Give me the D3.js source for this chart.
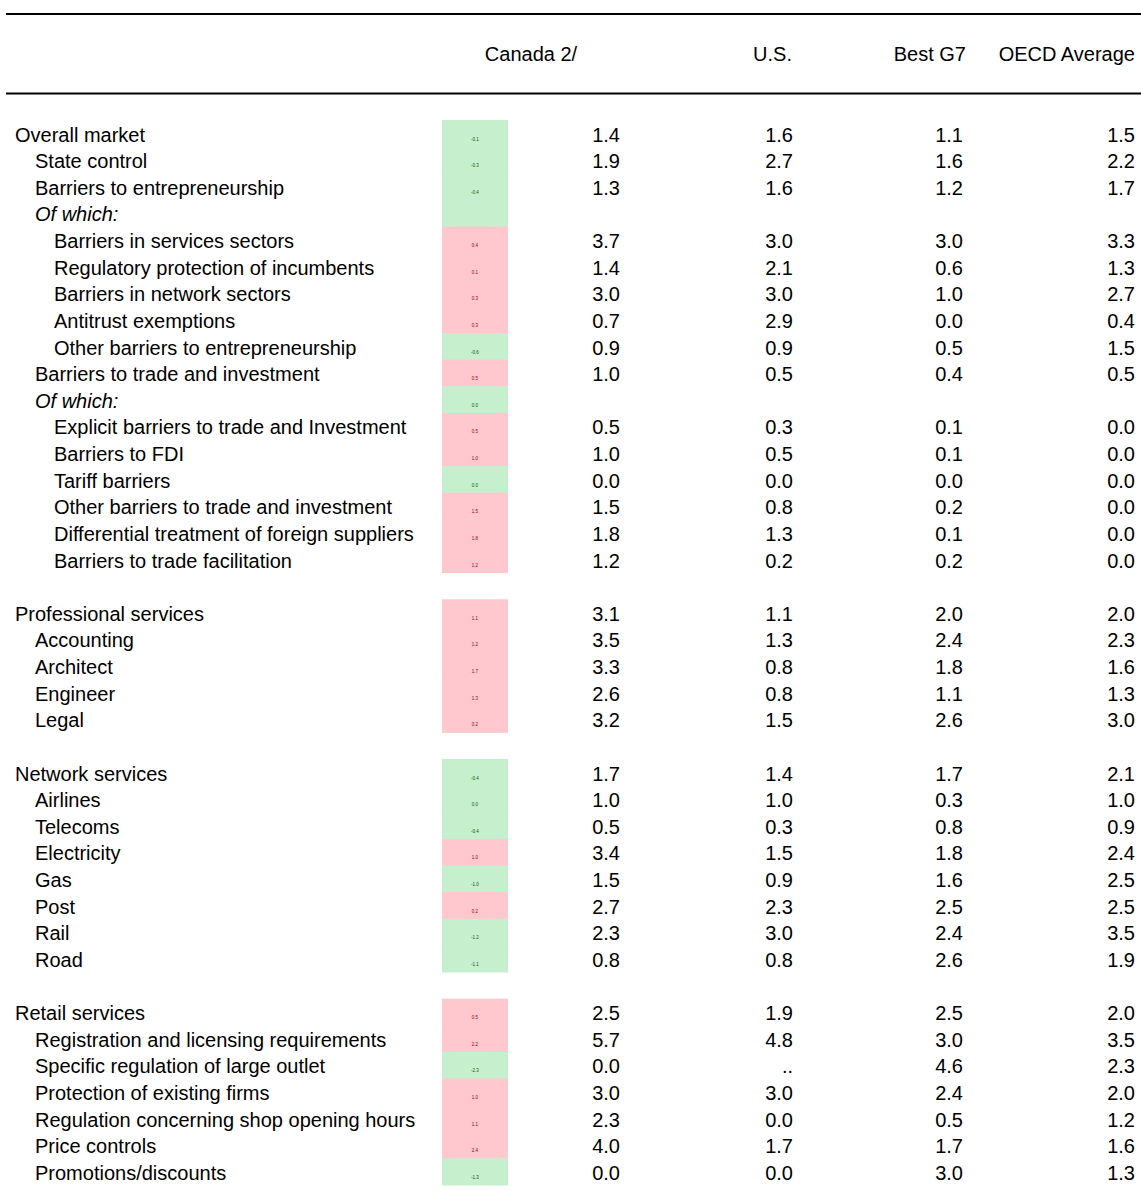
<!DOCTYPE html>
<html>
<head>
<meta charset="utf-8">
<script src="https://cdn.jsdelivr.net/npm/d3@7"></script>
<style>
  html, body { margin: 0; padding: 0; background: #ffffff; }
  svg { display: block; font-family: "Liberation Sans", Arial, sans-serif; }
</style>
</head>
<body>
<svg id="chart" width="1141" height="1191"></svg>
<script>
// ---------- DATA ----------
const columns = ["Canada 2/", "U.S.", "Best G7", "OECD Average"];

// null label = blank spacer row
const labels = [
  "Overall market", "State control", "Barriers to entrepreneurship", "Of which:",
  "Barriers in services sectors", "Regulatory protection of incumbents", "Barriers in network sectors",
  "Antitrust exemptions", "Other barriers to entrepreneurship", "Barriers to trade and investment",
  "Of which:", "Explicit barriers to trade and Investment", "Barriers to FDI", "Tariff barriers",
  "Other barriers to trade and investment", "Differential treatment of foreign suppliers",
  "Barriers to trade facilitation",
  null,
  "Professional services", "Accounting", "Architect", "Engineer", "Legal",
  null,
  "Network services", "Airlines", "Telecoms", "Electricity", "Gas", "Post", "Rail", "Road",
  null,
  "Retail services", "Registration and licensing requirements", "Specific regulation of large outlet",
  "Protection of existing firms", "Regulation concerning shop opening hours", "Price controls",
  "Promotions/discounts"
];

// hierarchy depth of each row (0 = heading, 1 = sub-item, 2 = sub-sub-item)
const levels = [
  0, 1, 1, 1, 2, 2, 2, 2, 2, 1, 1, 2, 2, 2, 2, 2, 2,
  null,
  0, 1, 1, 1, 1,
  null,
  0, 1, 1, 1, 1, 1, 1, 1,
  null,
  0, 1, 1, 1, 1, 1, 1
];

const canada = [
  1.4, 1.9, 1.3, null, 3.7, 1.4, 3.0, 0.7, 0.9, 1.0, null, 0.5, 1.0, 0.0, 1.5, 1.8, 1.2,
  null,
  3.1, 3.5, 3.3, 2.6, 3.2,
  null,
  1.7, 1.0, 0.5, 3.4, 1.5, 2.7, 2.3, 0.8,
  null,
  2.5, 5.7, 0.0, 3.0, 2.3, 4.0, 0.0
];
const us = [
  1.6, 2.7, 1.6, null, 3.0, 2.1, 3.0, 2.9, 0.9, 0.5, null, 0.3, 0.5, 0.0, 0.8, 1.3, 0.2,
  null,
  1.1, 1.3, 0.8, 0.8, 1.5,
  null,
  1.4, 1.0, 0.3, 1.5, 0.9, 2.3, 3.0, 0.8,
  null,
  1.9, 4.8, "..", 3.0, 0.0, 1.7, 0.0
];
const bestG7 = [
  1.1, 1.6, 1.2, null, 3.0, 0.6, 1.0, 0.0, 0.5, 0.4, null, 0.1, 0.1, 0.0, 0.2, 0.1, 0.2,
  null,
  2.0, 2.4, 1.8, 1.1, 2.6,
  null,
  1.7, 0.3, 0.8, 1.8, 1.6, 2.5, 2.4, 2.6,
  null,
  2.5, 3.0, 4.6, 2.4, 0.5, 1.7, 3.0
];
const oecd = [
  1.5, 2.2, 1.7, null, 3.3, 1.3, 2.7, 0.4, 1.5, 0.5, null, 0.0, 0.0, 0.0, 0.0, 0.0, 0.0,
  null,
  2.0, 2.3, 1.6, 1.3, 3.0,
  null,
  2.1, 1.0, 0.9, 2.4, 2.5, 2.5, 3.5, 1.9,
  null,
  2.0, 3.5, 2.3, 2.0, 1.2, 1.6, 1.3
];
// small figure in the coloured cell: Canada gap versus the OECD average
const gapVsOECD = [
  -0.1, -0.3, -0.4, null, 0.4, 0.1, 0.3, 0.3, -0.6, 0.5, 0.0, 0.5, 1.0, 0.0, 1.5, 1.8, 1.2,
  null,
  1.1, 1.2, 1.7, 1.3, 0.2,
  null,
  -0.4, 0.0, -0.4, 1.0, -1.0, 0.2, -1.2, -1.1,
  null,
  0.5, 2.2, -2.3, 1.0, 1.1, 2.4, -1.3
];
const series = [canada, us, bestG7, oecd];

// ---------- DRAW ----------
const svg = d3.select("#chart");
const W = 1141;
const FS = 20;

const y = d3.scaleBand().domain(d3.range(labels.length)).range([120, 1185]).padding(0);
const xValEnd = d3.scaleOrdinal().domain(columns).range([620, 793, 963, 1135]);
// header anchor positions (Canada header centred over cell + value columns)
const xHead = d3.scaleOrdinal().domain(columns).range([531, 792, 966, 1135]);
const headAnchor = d3.scaleOrdinal().domain(columns).range(["middle", "end", "end", "end"]);
const xIndent = d3.scaleOrdinal().domain([0, 1, 2]).range([15, 35, 54]);
const cellX0 = 442, cellX1 = 508;

const fmt = d3.format(".1f");
const fmtGap = v => (v < 0 ? "-" : "") + d3.format(".1f")(Math.abs(v));

// rules
svg.append("line").attr("x1", 6).attr("x2", W).attr("y1", 14).attr("y2", 14)
  .attr("stroke", "#000").attr("stroke-width", 2);
svg.append("line").attr("x1", 6).attr("x2", W).attr("y1", 93.5).attr("y2", 93.5)
  .attr("stroke", "#000").attr("stroke-width", 2);

// headers
svg.selectAll("text.head").data(columns).join("text")
  .attr("class", "head")
  .attr("x", d => xHead(d)).attr("y", 61)
  .attr("text-anchor", d => headAnchor(d))
  .attr("font-size", FS).attr("fill", "#000")
  .text(d => d);

const rows = labels.map((l, i) => ({ i, label: l, level: levels[i], gap: gapVsOECD[i] }))
  .filter(d => d.label !== null);

// coloured cells
const cells = svg.selectAll("g.cell").data(rows).join("g").attr("class", "cell");
cells.append("rect")
  .attr("x", cellX0).attr("width", cellX1 - cellX0)
  .attr("y", d => y(d.i)).attr("height", y.bandwidth() + 0.5)
  .attr("fill", d => (d.gap !== null && d.gap > 0) ? "#FFC7CE" : "#C6EFCE");
cells.filter(d => d.gap !== null).append("text")
  .attr("x", (cellX0 + cellX1) / 2).attr("y", d => y(d.i) + 20.5)
  .attr("text-anchor", "middle")
  .attr("font-size", 4.5)
  .attr("fill", d => d.gap > 0 ? "#9C0006" : "#006100")
  .text(d => fmtGap(d.gap));

// labels
svg.selectAll("text.lab").data(rows).join("text")
  .attr("class", "lab")
  .attr("x", d => xIndent(d.level)).attr("y", d => y(d.i) + 21.5)
  .attr("font-size", FS).attr("fill", "#000")
  .attr("font-style", d => d.label === "Of which:" ? "italic" : "normal")
  .text(d => d.label);

// values
columns.forEach((col, c) => {
  const vals = rows.filter(d => series[c][d.i] !== null)
    .map(d => ({ i: d.i, v: series[c][d.i] }));
  svg.selectAll("text.v" + c).data(vals).join("text")
    .attr("class", "v" + c)
    .attr("x", xValEnd(col)).attr("y", d => y(d.i) + 21.5)
    .attr("text-anchor", "end")
    .attr("font-size", FS).attr("fill", "#000")
    .text(d => typeof d.v === "number" ? fmt(d.v) : d.v);
});
</script>
</body>
</html>
